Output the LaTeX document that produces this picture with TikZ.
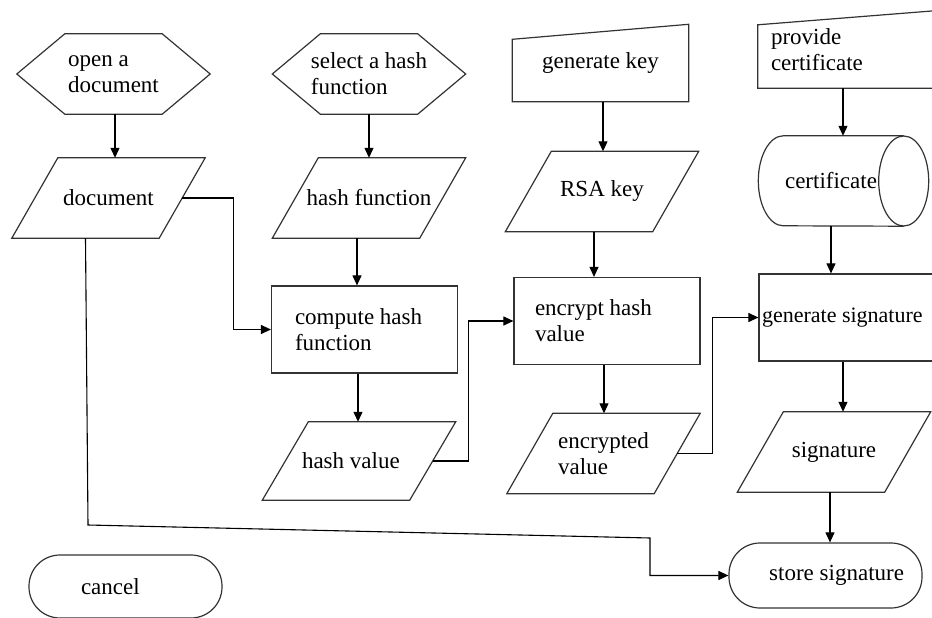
\documentclass[tikz,border=0pt]{standalone}
\usepackage{fontspec}
\setmainfont{Liberation Serif}
\usetikzlibrary{arrows.meta}
\tikzset{>={Triangle[length=10pt,width=9pt]}}
\tikzset{
  outline/.style={draw=black!80, line width=1.2pt},
  txt/.style={font=\fontsize{23}{26}\selectfont, inner sep=0pt, align=flush left},
  hexa/.style={txt, minimum width=193pt, minimum height=80pt,
    append after command={\pgfextra{\draw[outline]
      (\tikzlastnode.west) -- ([xshift=48pt]\tikzlastnode.north west)
      -- ([xshift=-48pt]\tikzlastnode.north east) -- (\tikzlastnode.east)
      -- ([xshift=-48pt]\tikzlastnode.south east)
      -- ([xshift=48pt]\tikzlastnode.south west) -- cycle;}}},
  iodata/.style={txt, minimum width=193pt, minimum height=80pt,
    append after command={\pgfextra{\draw[outline]
      (\tikzlastnode.south west) -- ([xshift=46pt]\tikzlastnode.north west)
      -- (\tikzlastnode.north east) -- ([xshift=-46pt]\tikzlastnode.south east)
      -- cycle;}}},
  process/.style={txt, outline, rectangle, minimum width=186pt, minimum height=87pt},
  database/.style={txt, minimum width=145pt, minimum height=90pt,
    append after command={\pgfextra{\draw[outline]
      (\tikzlastnode.north east) -- ([xshift=25pt]\tikzlastnode.north west)
      arc[start angle=90, end angle=270, x radius=25pt, y radius=45pt]
      -- (\tikzlastnode.south east);
      \draw[outline] (\tikzlastnode.east) ellipse[x radius=25pt, y radius=45pt];}}},
  terminal/.style={txt, outline, rectangle, rounded corners=31pt,
    minimum width=193pt, minimum height=63pt},
  slanttop/.style={txt, minimum width=176pt, minimum height=77pt,
    append after command={\pgfextra{\draw[outline]
      ([yshift=-#1]\tikzlastnode.north west) -- (\tikzlastnode.north east)
      -- (\tikzlastnode.south east) -- (\tikzlastnode.south west) -- cycle;}}},
  flow/.style={->, line width=1.1pt}
}
\begin{document}
\begin{tikzpicture}[x=1pt,y=-1pt]
  \useasboundingbox (0,0) rectangle (932,618);
  % column 1
  \node[hexa] (open) at (113.5,74) {open a\\document};
  \node[iodata] (doc) at (108.5,198) {document};
  \node[terminal, text width=89pt] (cancel) at (125.5,586.5) {cancel};
  % column 2
  \node[hexa] (selhash) at (369,74) {select a hash\\function};
  \node[iodata] (hashfn) at (369,198) {hash function};
  \node[process, text width=139pt] (compute) at (364.5,329.5) {compute hash\\function};
  \node[iodata, minimum height=78pt, text width=114pt] (hashval) at (359,461) {hash value};
  % column 3
  \node[slanttop=15pt] (gkey) at (600.5,63) {generate key};
  \node[iodata] (rsa) at (602,191.5) {RSA key};
  \node[process, text width=144pt] (encrypt) at (607,321) {encrypt hash\\value};
  \node[iodata] (encval) at (603.5,453.5) {encrypted\\value};
  % column 4
  \node[slanttop=14pt, text width=150pt] (provcert) at (846,49.5) {provide\\certificate};
  \node[database] (cert) at (831,181) {certificate};
  \node[process, font=\fontsize{22}{26}\selectfont, text width=180pt]
    (gensig) at (852,317.5) {generate signature};
  \node[iodata] (sig) at (834,452) {signature};
  \node[terminal, minimum height=65pt, text width=157pt, align=flush right]
    (store) at (825.5,575.5) {store signature};
  \coordinate (bend1) at (88,525);
  \coordinate (bend2) at (650,538);
  % arrows
  \draw[flow] ([xshift=1.5pt]open.south) -- ([xshift=1.5pt]open.south |- doc.north);
  \draw[flow] (selhash.south) -- (selhash.south |- hashfn.north);
  \draw[flow] ([xshift=-12pt]hashfn.south) -- ([xshift=-12pt]hashfn.south |- compute.north);
  \draw[flow] ([xshift=-6.5pt]compute.south) -- ([xshift=-6.5pt]compute.south |- hashval.north);
  \draw[flow] ([xshift=2.5pt]gkey.south) -- ([xshift=2.5pt]gkey.south |- rsa.north);
  \draw[flow] ([xshift=-8pt]rsa.south) -- ([xshift=-8pt]rsa.south |- encrypt.north);
  \draw[flow] ([xshift=-3pt]encrypt.south) -- ([xshift=-3pt]encrypt.south |- encval.north);
  \draw[flow] ([xshift=-3pt]provcert.south) -- ([xshift=-3pt]provcert.south |- cert.north);
  \draw[flow] (cert.south) -- (cert.south |- gensig.north);
  \draw[flow] ([xshift=-9pt]gensig.south) -- ([xshift=-9pt]gensig.south |- sig.north);
  \draw[flow] ([xshift=-4pt]sig.south) -- ([xshift=-4pt]sig.south |- store.north);
  \draw[flow] ([xshift=-23pt]doc.east) -- ++(51,0) |- (compute.west);
  \draw[flow] ([xshift=-23pt]hashval.east) -- ++(36,0) |- (encrypt.west);
  \draw[flow] ([xshift=-23pt]encval.east) -- ++(35,0) |- (gensig.west);
  \draw[flow] ([xshift=-23pt]doc.south) -- (bend1) -- (bend2) |- (store.west);
\end{tikzpicture}
\end{document}
